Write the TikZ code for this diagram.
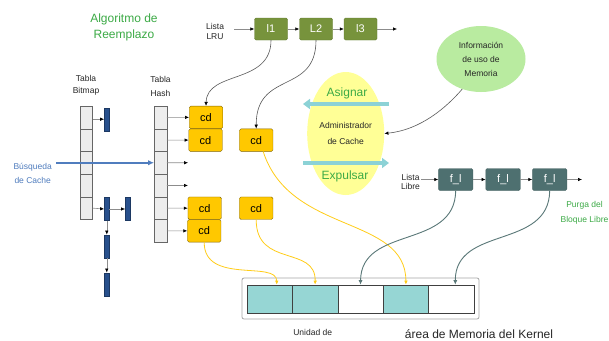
\documentclass[tikz,border=0pt]{standalone}
\usepackage{fontspec}
\setmainfont{Liberation Sans}
\usetikzlibrary{arrows.meta,shapes.geometric}
\definecolor{lruolive}{RGB}{119,147,60}
\definecolor{freeslate}{RGB}{78,112,112}
\definecolor{cdyellow}{RGB}{255,200,0}
\definecolor{memteal}{RGB}{150,214,212}
\definecolor{bitblue}{RGB}{40,80,140}
\definecolor{labgreen}{RGB}{60,170,70}
\definecolor{searchblue}{RGB}{80,125,190}
\definecolor{admyellow}{RGB}{255,255,150}
\definecolor{infogreen}{RGB}{185,235,160}
\definecolor{flowcyan}{RGB}{140,210,214}
\definecolor{linkgray}{RGB}{90,120,120}
\tikzset{
  lbl/.style={font=\fontsize{8.5}{10}\selectfont,align=center,text=black!85,inner sep=1pt},
  biglbl/.style={font=\fontsize{12}{16}\selectfont,align=center,text=black!85,inner sep=1pt},
  lrubox/.style={fill=lruolive,draw=lruolive!85!black,rounded corners=1.5pt,minimum width=33,minimum height=22,inner sep=0,text=white,font=\fontsize{11}{11}\selectfont},
  freebox/.style={lrubox,fill=freeslate,draw=freeslate!85!black,minimum width=34.5},
  cdbox/.style={fill=cdyellow,draw=cdyellow!50!black,rounded corners=1.5pt,minimum width=33.5,minimum height=22.5,inner sep=0,font=\fontsize{11}{11}\selectfont},
  tcell/.style={fill=black!7,draw=black!60,minimum width=12.5,minimum height=22.7,inner sep=0},
  bar/.style={fill=bitblue,draw=bitblue!70!black,line width=0.3pt,minimum width=5,minimum height=23,inner sep=0},
  memcell/.style={draw=black!75,line width=0.6pt,minimum width=45.4,minimum height=28,inner sep=0},
  ptr/.style={draw=black!45,line width=0.6pt,-{Latex[length=4pt,width=3.5pt,color=black]}},
  lrulink/.style={ptr,draw=black!65},
  searchline/.style={draw=searchblue,line width=1.8pt,-{Latex[length=6pt,width=5.5pt]}},
  yellowlink/.style={draw=cdyellow!90!white,line width=0.8pt,-{Latex[length=4pt,width=3.5pt]}},
  slatelink/.style={draw=linkgray,line width=0.9pt,-{Latex[length=4.5pt,width=4pt]}},
  flow/.style={draw=flowcyan,line width=3.5pt,-{Triangle[length=7pt,width=10pt]}}
}
\begin{document}
\begin{tikzpicture}[x=1pt,y=-1pt]
\fill[white] (0,0) rectangle (609,340);
\useasboundingbox (0,0) rectangle (609,340);
\node[biglbl,text=labgreen] (algo) at (124,27) {Algoritmo de\\Reemplazo};
\node[lbl,font=\fontsize{8.5}{9.5}\selectfont] (lru) at (215,31.5) {Lista\\LRU};
\node[lrubox] (l1) at (271,29) {l1};
\node[lrubox] (l2) at (316,29) {L2};
\node[lrubox] (l3) at (360.5,29) {l3};
\coordinate (lruend) at (397,29);
\draw[ptr,shorten <=9pt] (lru.east |- l1.west) -- (l1.west);
\draw[ptr] (l1) -- (l2);
\draw[ptr] (l2) -- (l3);
\draw[ptr] (l3) -- (lruend);
\node[lbl,font=\fontsize{8.5}{12}\selectfont] (tbm) at (86,85) {Tabla\\Bitmap};
\node[lbl,font=\fontsize{8.5}{14}\selectfont] (ths) at (160.5,86) {Tabla\\Hash};
\foreach \i in {1,...,5} \node[tcell] (bm\i) at (86.3,{106+22.7*(\i-0.5)}) {};
\foreach \i in {1,...,6} \node[tcell] (hs\i) at (160.5,{106+22.7*(\i-0.5)}) {};
\node[bar] (b1) at (106.8,119.2) {};
\node[bar] (b5) at (106.8,209) {};
\node[bar] (b5r) at (127.8,209) {};
\node[bar] (b6) at (106.8,246.3) {};
\node[bar] (b7) at (106.8,284.2) {};
\draw[ptr] (bm1.east |- b1.west) -- (b1.west);
\draw[ptr] (bm5.east) -- (b5.west);
\draw[ptr] (b5) -- (b5r);
\draw[ptr] (b5) -- (b6);
\draw[ptr] (b6) -- (b7);
\node[cdbox] (cd1) at (206,117.4) {cd};
\node[cdbox] (cd2) at (205.5,140.1) {cd};
\node[cdbox] (cd5) at (204.7,208.2) {cd};
\node[cdbox] (cd6) at (204.2,230.9) {cd};
\node[cdbox] (cdb2) at (256.2,140.1) {cd};
\node[cdbox] (cdb5) at (256.2,208.2) {cd};
\coordinate (e3) at (188,162.75);
\coordinate (e4) at (188,185.45);
\foreach \i/\t in {1/cd1,2/cd2,3/e3,4/e4,5/cd5,6/cd6} \draw[ptr] (hs\i.east) -- (\t);
\node[lbl,text=searchblue,font=\fontsize{8.5}{14}\selectfont] (busq) at (32.7,173.7) {Búsqueda\\de Cache};
\draw[searchline,shorten <=3pt] (busq.east |- hs3) -- (hs3.west);
\draw[lrulink] (l1.south) .. controls (271,85) and (207,70) .. (cd1.north);
\draw[lrulink] (l2.south) .. controls (316,95) and (256,70) .. (cdb2.north);
\node[ellipse,fill=admyellow,minimum width=70,minimum height=123,inner sep=0,lbl,font=\fontsize{8.5}{16}\selectfont] (admin) at (345.7,133.5) {Administrador\\de Cache};
\node[biglbl,text=labgreen] (asig) at (347,93) {Asignar};
\node[biglbl,text=labgreen] (expu) at (345,176) {Expulsar};
\coordinate (asgR) at (389,104);
\coordinate (asgL) at (303,104);
\draw[flow] (asgR) -- (asgL);
\coordinate (expL) at (303,163);
\coordinate (expR) at (389,163);
\draw[flow] (expL) -- (expR);
\node[ellipse,fill=infogreen,minimum width=89,minimum height=66,inner sep=0,lbl,font=\fontsize{8.5}{14}\selectfont] (info) at (481,59) {Información\\de uso de\\Memoria};
\draw[lrulink] (info.238) .. controls (446,108) and (420,130) .. (admin.east);
\node[lbl,font=\fontsize{8.5}{9.5}\selectfont] (libre) at (410.5,182) {Lista\\Libre};
\node[freebox] (f1) at (455.7,179.5) {f\_l};
\node[freebox] (f2) at (503,179.5) {f\_l};
\node[freebox] (f3) at (549.7,179.5) {f\_l};
\coordinate (freeend) at (582,179.5);
\draw[ptr] (libre.east |- f1.west) -- (f1.west);
\draw[ptr] (f1) -- (f2);
\draw[ptr] (f2) -- (f3);
\draw[ptr] (f3) -- (freeend);
\node[lbl,text=labgreen,font=\fontsize{8.5}{15}\selectfont] (purga) at (584.5,213) {Purga del\\Bloque Libre};
\node[draw=black!35,line width=0.8pt,rounded corners=2pt,minimum width=237,minimum height=41,inner sep=0] (kmem) at (360.5,298.5) {};
\foreach \i/\c in {1/memteal,2/memteal,3/white,4/memteal,5/white} \node[memcell,fill=\c] (m\i) at ({247+45.4*(\i-0.5)},299) {};
\node[lbl] (unidad) at (312.7,332) {Unidad de};
\node[biglbl] (kern) at (479,334.5) {área de Memoria del Kernel};
\draw[yellowlink] ([xshift=7]cdb2.south) .. controls (290,235) and (406,215) .. (m4.north);
\draw[yellowlink] (cd6.south) .. controls (204,285) and (277,260) .. ([xshift=7]m1.north);
\draw[yellowlink] (cdb5.south) .. controls (256,268) and (316,245) .. (m2.north);
\draw[slatelink] (f1.south) .. controls (455,250) and (361,225) .. (m3.north);
\draw[slatelink] (f3.south) .. controls (549,250) and (455,225) .. ([xshift=4]m5.north);
\end{tikzpicture}
\end{document}
